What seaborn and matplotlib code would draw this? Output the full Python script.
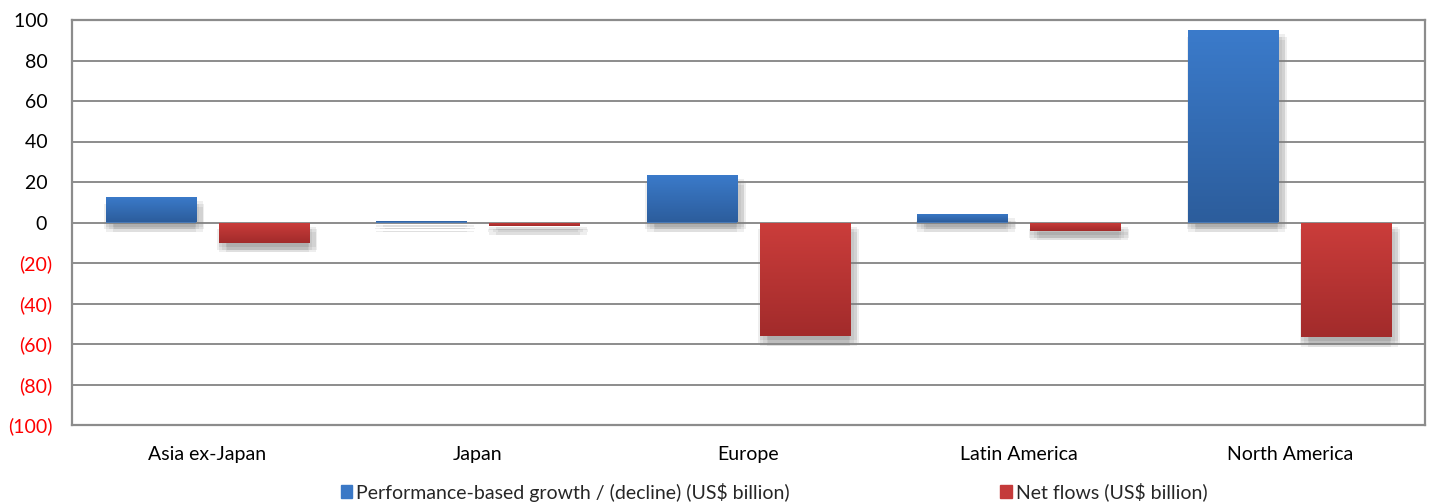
import numpy as np
import pandas as pd
import matplotlib
matplotlib.use("Agg")
import matplotlib.pyplot as plt
import matplotlib.patheffects as pe
from matplotlib.colors import LinearSegmentedColormap
import seaborn as sns

regions = ["Asia ex-Japan", "Japan", "Europe", "Latin America", "North America"]
performance = [12.5, 0.7, 23.5, 4.2, 95.0]
net_flows = [-10.0, -1.5, -56.0, -4.0, -56.5]
series_names = ["Performance-based growth / (decline) (US$ billion)",
                "Net flows (US$ billion)"]
y_ticks = [-100, -80, -60, -40, -20, 0, 20, 40, 60, 80, 100]

df = pd.DataFrame({
    "region": regions * 2,
    "value": performance + net_flows,
    "series": [series_names[0]] * len(regions) + [series_names[1]] * len(regions),
})

sns.set_theme(style="white")
plt.rcParams["font.family"] = ["Lato", "DejaVu Sans"]

fig = plt.figure(figsize=(14.3, 5.04), dpi=100)
ax = fig.add_axes([72 / 1430, 1 - 425 / 504, (1425 - 72) / 1430, (425 - 20) / 504])

palette = {series_names[0]: "#3a78c6", series_names[1]: "#c43a3a"}
sns.barplot(data=df, x="region", y="value", hue="series", palette=palette,
            width=0.835, gap=0.2, ax=ax, legend=False, zorder=3)

FS = 14

ax.set_ylim(-100, 100)
ax.set_yticks(y_ticks)
# accounting style: negatives in parentheses, positives padded to align digits
ax.set_yticklabels([f"({abs(t)})" if t < 0 else f"{t} " for t in y_ticks])
ax.tick_params(axis="both", length=0, labelsize=FS, colors="black")
ax.tick_params(axis="y", pad=14)
ax.tick_params(axis="x", pad=15)
for lbl, t in zip(ax.get_yticklabels(), y_ticks):
    lbl.set_color("#ff0000" if t < 0 else "black")
ax.set_xlabel("")
ax.set_ylabel("")
ax.yaxis.grid(True, color="#8c8c8c", linewidth=1.4, zorder=0)
ax.set_axisbelow(True)
for s in ax.spines.values():
    s.set_visible(True)
    s.set_color("#8c8c8c")
    s.set_linewidth(1.6)

# Vertical gradient fill and soft drop shadow on each bar
grads = {
    series_names[0]: LinearSegmentedColormap.from_list("b", ["#3b7bcb", "#2c5d9c"]),
    series_names[1]: LinearSegmentedColormap.from_list("r", ["#cb3d3b", "#a22b2b"]),
}
shadow_layers = []
for dx, dy in [(0, -3), (5, -3), (0, -7), (5, -7), (2.5, -5), (-1, -5), (6, -5)]:
    shadow_layers.append(pe.SimplePatchShadow(offset=(dx, dy), shadow_rgbFace="#808080", alpha=0.13))

series_for_bar = [series_names[0]] * len(regions) + [series_names[1]] * len(regions)
for patch, sname in zip(list(ax.patches), series_for_bar):
    patch.set_edgecolor("none")
    patch.set_path_effects(shadow_layers + [pe.Normal()])
    x0, y0 = patch.get_x(), patch.get_y()
    w, h = patch.get_width(), patch.get_height()
    top, bottom = max(y0, y0 + h), min(y0, y0 + h)
    if top - bottom <= 0:
        continue
    grad = np.linspace(0, 1, 256).reshape(-1, 1)
    im = ax.imshow(grad, cmap=grads[sname], aspect="auto",
                   extent=(x0, x0 + w, bottom, top), origin="upper",
                   zorder=4, interpolation="bilinear")
    im.set_clip_path(patch)

ax.set_xlim(-0.5, len(regions) - 0.5)
ax.set_ylim(-100, 100)

handles = [plt.Rectangle((0, 0), 1, 1, color=palette[n]) for n in series_names]
fig.legend(handles, series_names, loc="center", bbox_to_anchor=(774 / 1430, 1 - 492 / 504),
           ncol=2, frameon=False, fontsize=FS, handlelength=0.6, handleheight=0.6,
           handletextpad=0.2, columnspacing=10.8)

fig.savefig("out.png", dpi=100)
